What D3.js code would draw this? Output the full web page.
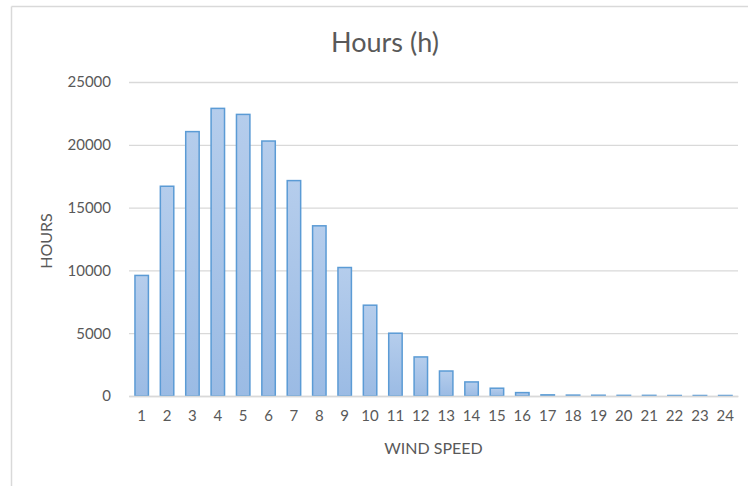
<!DOCTYPE html>
<html>
<head>
<meta charset="utf-8">
<script src="https://cdn.jsdelivr.net/npm/d3@7"></script>
<style>
  html, body { margin: 0; padding: 0; background: #fff; }
  svg { display: block; }
  text { font-family: Lato, "Noto Sans", sans-serif; fill: #595959; }
</style>
</head>
<body>
<svg id="chart" width="748" height="486"></svg>
<script>
// Hours recorded per wind-speed class
const windSpeeds = ["1","2","3","4","5","6","7","8","9","10","11","12",
                    "13","14","15","16","17","18","19","20","21","22","23","24"];
const hours = [9600, 16700, 21050, 22900, 22420, 20300, 17150, 13550, 10230, 7230, 5000, 3110,
               1990, 1120, 620, 270, 90, 70, 60, 50, 50, 40, 40, 40];
const yTicks = [0, 5000, 10000, 15000, 20000, 25000];

const chartTitle = "Hours (h)";
const xTitle = "WIND SPEED";
const yTitle = "HOURS";

const W = 748, H = 486;
const plot = { left: 129, right: 738, top: 82, bottom: 396 };

const svg = d3.select("#chart");

// chart-area frame (top and left edges visible)
svg.append("line").attr("x1", 11.5).attr("x2", W).attr("y1", 6.5).attr("y2", 6.5)
  .attr("stroke", "#d9d9d9").attr("stroke-width", 1.5);
svg.append("line").attr("x1", 11.5).attr("x2", 11.5).attr("y1", 6.5).attr("y2", H)
  .attr("stroke", "#d9d9d9").attr("stroke-width", 1.5);

const x = d3.scaleBand()
  .domain(windSpeeds)
  .range([plot.left, plot.right])
  .paddingInner(0.47)
  .paddingOuter(0.235);

const y = d3.scaleLinear()
  .domain([0, 25000])
  .range([plot.bottom, plot.top]);

// gradient fill for bars
const defs = svg.append("defs");
const grad = defs.append("linearGradient").attr("id", "barFill")
  .attr("x1", 0).attr("y1", 0).attr("x2", 0).attr("y2", 1);
grad.append("stop").attr("offset", "0%").attr("stop-color", "#b5cdec");
grad.append("stop").attr("offset", "100%").attr("stop-color", "#9bbbe4");

// gridlines + y tick labels
const yAxis = svg.append("g")
  .attr("transform", `translate(${plot.left},0)`)
  .call(d3.axisLeft(y).tickValues(yTicks).tickSize(-(plot.right - plot.left)).tickPadding(18).tickFormat(d3.format("d")));
yAxis.select(".domain").remove();
yAxis.selectAll(".tick line").attr("stroke", "#d9d9d9").attr("stroke-width", 1.3);
yAxis.selectAll(".tick text").attr("font-size", 15).style("font-family", "Lato, sans-serif").attr("fill", "#595959");

// bars
svg.append("g").selectAll("rect")
  .data(hours)
  .join("rect")
  .attr("x", (d, i) => x(windSpeeds[i]))
  .attr("width", x.bandwidth())
  .attr("y", d => y(d))
  .attr("height", d => y(0) - y(d))
  .attr("fill", "url(#barFill)")
  .attr("stroke", "#5b9bd5")
  .attr("stroke-width", 1.5);

// x axis
const xAxis = svg.append("g")
  .attr("transform", `translate(0,${plot.bottom})`)
  .call(d3.axisBottom(x).tickSize(0).tickPadding(14));
xAxis.select(".domain").attr("stroke", "#d9d9d9").attr("stroke-width", 1.3);
xAxis.selectAll(".tick text").attr("font-size", 15).style("font-family", "Lato, sans-serif").attr("fill", "#595959");

// titles
svg.append("text")
  .attr("x", 385).attr("y", 52)
  .attr("text-anchor", "middle")
  .attr("font-size", 27)
  .text(chartTitle);

svg.append("text")
  .attr("x", (plot.left + plot.right) / 2).attr("y", 454)
  .attr("text-anchor", "middle")
  .attr("font-size", 16)
  .text(xTitle);

svg.append("text")
  .attr("transform", `translate(52,${(plot.top + plot.bottom) / 2 + 2}) rotate(-90)`)
  .attr("text-anchor", "middle")
  .attr("font-size", 16)
  .text(yTitle);
</script>
</body>
</html>
